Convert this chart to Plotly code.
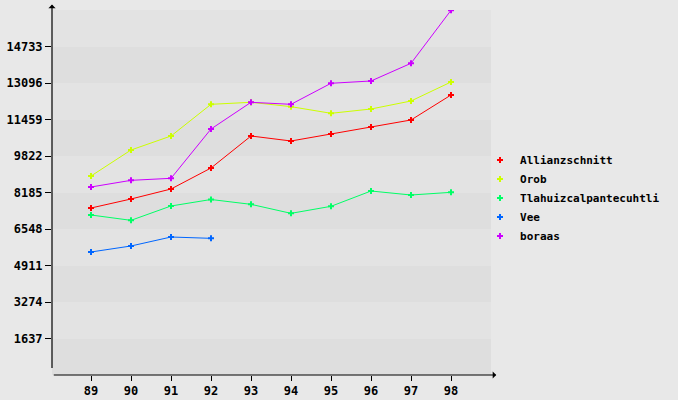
import plotly.graph_objects as go

years = ["89", "90", "91", "92", "93", "94", "95", "96", "97", "98"]
allianz = [7490, 7894, 8342, 9284, 10719, 10495, 10809, 11123, 11437, 12558]
orob = [8925, 10091, 10719, 12140, 12230, 12035, 11737, 11930, 12289, 13141]
tlahui = [7176, 6937, 7580, 7871, 7654, 7250, 7565, 8252, 8073, 8192]
vee = [5517, 5786, 6189, 6129]
boraas = [8432, 8731, 8821, 11033, 12230, 12140, 13083, 13186, 13979, 16357]
yticks = [1637, 3274, 4911, 6548, 8185, 9822, 11459, 13096, 14733]
ymax = 16370

series = [
    ("Allianzschnitt", allianz, "#ff0000"),
    ("Orob", orob, "#ccff00"),
    ("Tlahuizcalpantecuhtli", tlahui, "#00ff66"),
    ("Vee", vee, "#0066ff"),
    ("boraas", boraas, "#cc00ff"),
]

font = dict(family="DejaVu Sans Mono", size=12, color="#000000", weight="bold")
lfont = dict(family="DejaVu Sans Mono", size=11, color="#000000", weight="bold")

fig = go.Figure()
xi = list(range(len(years)))
for name, vals, col in series:
    fig.add_trace(go.Scatter(
        x=xi[:len(vals)], y=vals, mode="lines+markers", name=name,
        line=dict(color=col, width=1),
        marker=dict(symbol="cross", size=5, color=col, line=dict(width=0)),
        showlegend=False,
    ))
for name, vals, col in series:
    fig.add_trace(go.Scatter(
        x=[None], y=[None], mode="markers", name=name,
        marker=dict(symbol="cross", size=5, color=col, line=dict(width=0)),
    ))

# alternating bands
bounds = [0] + yticks + [ymax]
shapes = []
for i in range(len(bounds) - 1):
    shapes.append(dict(type="rect", xref="paper", yref="y", x0=0, x1=1,
                       y0=bounds[i], y1=bounds[i + 1], line=dict(width=0),
                       fillcolor="#dedede" if i % 2 == 0 else "#e3e3e3",
                       layer="below"))

annotations = [
    dict(x=0, y=1.015, xref="paper", yref="paper", ax=0, ay=365,
         showarrow=True, arrowhead=1, arrowsize=1, arrowwidth=1.2,
         arrowcolor="#000", text=""),
    dict(x=1.012, y=0, xref="paper", yref="paper", ax=-444, ay=0,
         showarrow=True, arrowhead=1, arrowsize=1, arrowwidth=1.2,
         arrowcolor="#000", text=""),
]

fig.update_layout(
    width=678, height=400,
    margin=dict(l=52, r=187, t=10, b=25, autoexpand=False),
    paper_bgcolor="#e8e8e8", plot_bgcolor="#e8e8e8",
    shapes=shapes, annotations=annotations,
    font=font,
    xaxis=dict(range=[-0.975, 10.0], tickvals=xi, ticktext=years,
               showgrid=False, zeroline=False, showline=False,
               ticks="outside", ticklen=5, tickcolor="#000",
               tickfont=font, automargin=False),
    yaxis=dict(range=[0, ymax], tickvals=yticks, ticktext=[str(v) for v in yticks],
               showgrid=False, zeroline=False, showline=False,
               ticks="outside", ticklen=6, tickcolor="#000",
               tickfont=font, automargin=False),
    legend=dict(xref="container", yref="container", x=0.708, y=0.505,
                xanchor="left", yanchor="middle",
                bgcolor="rgba(0,0,0,0)", font=lfont, itemwidth=30,
                tracegroupgap=0),
)

fig.write_html("out.html")
